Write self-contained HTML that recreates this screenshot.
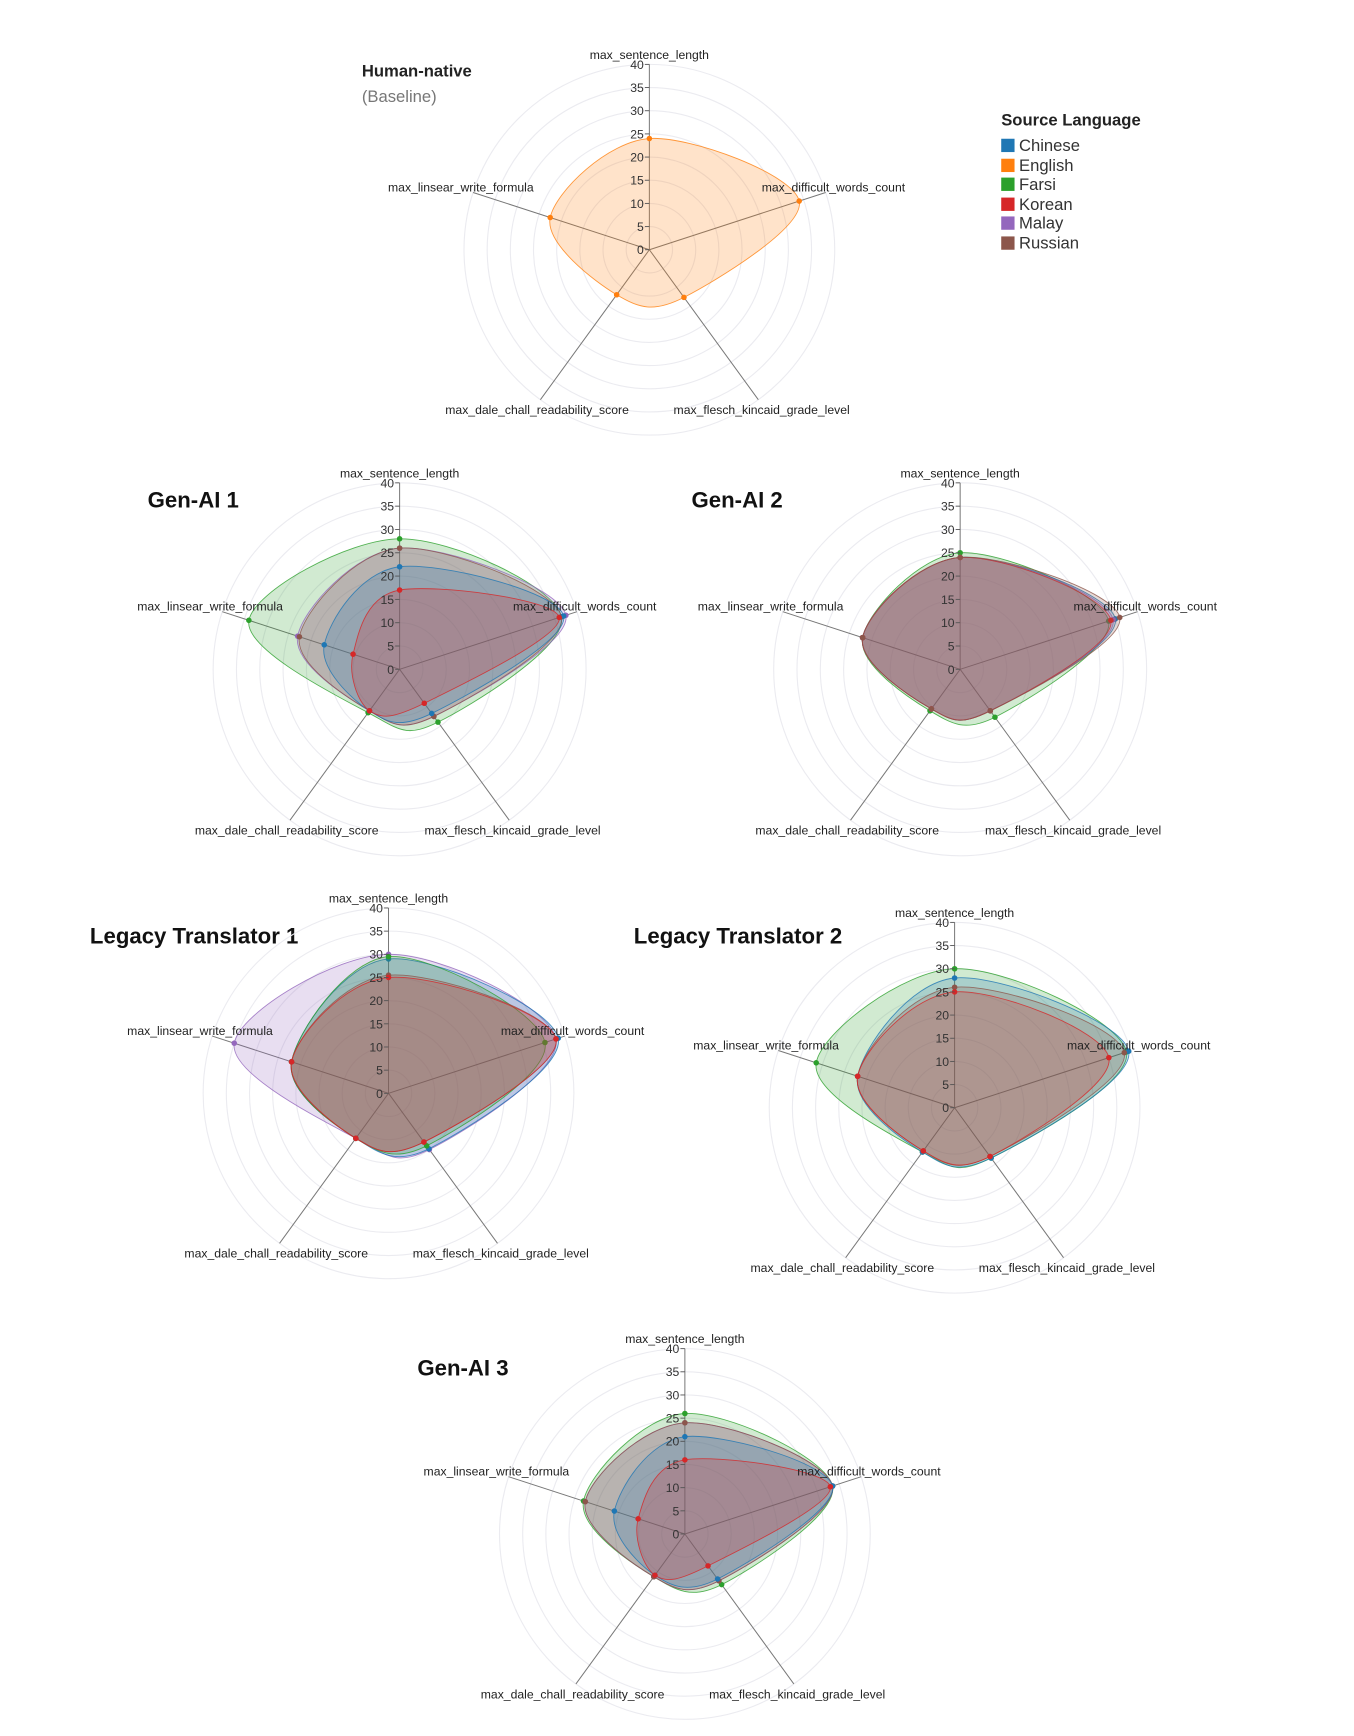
<!DOCTYPE html>
<html><head><meta charset="utf-8"><style>
html,body{margin:0;padding:0;background:#fff;}
svg{display:block;font-family:"Liberation Sans",Arial,sans-serif;}
</style></head><body>
<svg id="s" width="1354" height="1736" viewBox="0 0 1219.8 1564" xmlns="http://www.w3.org/2000/svg">
<text x="326" y="69" font-size="15" font-weight="bold" fill="#222">Human-native</text>
<text x="326" y="92" font-size="15" fill="#777">(Baseline)</text>
<text x="133" y="457" font-size="20" font-weight="bold" fill="#111">Gen-AI 1</text>
<text x="623" y="457" font-size="20" font-weight="bold" fill="#111">Gen-AI 2</text>
<text x="81" y="850" font-size="20" font-weight="bold" fill="#111">Legacy Translator 1</text>
<text x="571" y="850" font-size="20" font-weight="bold" fill="#111">Legacy Translator 2</text>
<text x="376" y="1239" font-size="20" font-weight="bold" fill="#111">Gen-AI 3</text>
<text x="902" y="113" font-size="15" font-weight="bold" fill="#222">Source Language</text>
<g font-size="15" fill="#333">
<rect x="902" y="125" width="12" height="12" fill="#1f77b4"/><text x="918" y="136">Chinese</text>
<rect x="902" y="143" width="12" height="12" fill="#ff7f0e"/><text x="918" y="154">English</text>
<rect x="902" y="160" width="12" height="12" fill="#2ca02c"/><text x="918" y="171">Farsi</text>
<rect x="902" y="178" width="12" height="12" fill="#d62728"/><text x="918" y="189">Korean</text>
<rect x="902" y="195" width="12" height="12" fill="#9467bd"/><text x="918" y="206">Malay</text>
<rect x="902" y="213" width="12" height="12" fill="#8c564b"/><text x="918" y="224">Russian</text>
</g>
</svg>
<script>
var NS="http://www.w3.org/2000/svg",S=document.getElementById('s');
var C={ch:"#1f77b4",en:"#ff7f0e",fa:"#2ca02c",ko:"#d62728",ma:"#9467bd",ru:"#8c564b"};
var labels=["max_sentence_length","max_difficult_words_count","max_flesch_kincaid_grade_level","max_dale_chall_readability_score","max_linsear_write_formula"];
function el(t,a,txt){var e=document.createElementNS(NS,t);for(var k in a)e.setAttribute(k,a[k]);if(txt!==undefined)e.textContent=txt;S.appendChild(e);return e;}
function ang(i){return -Math.PI/2+i*2*Math.PI/5;}
function chart(cx,cy,R,series){
  var u=R/40;
  for(var r=5;r<=40;r+=5)el('circle',{cx:cx,cy:cy,r:r*u,fill:'none',stroke:'#ebebf0','stroke-width':1});
  for(var i=0;i<5;i++){var a=ang(i);el('line',{x1:cx,y1:cy,x2:cx+R*Math.cos(a),y2:cy+R*Math.sin(a),stroke:'#777','stroke-width':0.9});}
  series.forEach(function(s){
    var p=s[1].map(function(v,i){var a=ang(i);return [cx+v*u*Math.cos(a),cy+v*u*Math.sin(a)];});
    var n=p.length,d="M"+p[0][0]+","+p[0][1];
    for(var i=0;i<n;i++){var p0=p[(i-1+n)%n],p1=p[i],p2=p[(i+1)%n],p3=p[(i+2)%n];
      d+="C"+(p1[0]+(p2[0]-p0[0])/6)+","+(p1[1]+(p2[1]-p0[1])/6)+" "+(p2[0]-(p3[0]-p1[0])/6)+","+(p2[1]-(p3[1]-p1[1])/6)+" "+p2[0]+","+p2[1];}
    el('path',{d:d+"Z",fill:C[s[0]],'fill-opacity':0.22,stroke:C[s[0]],'stroke-width':0.8,'stroke-opacity':0.8});
    p.forEach(function(q){el('circle',{cx:q[0],cy:q[1],r:2.5,fill:C[s[0]]});});
  });
  for(var t=0;t<=40;t+=5){var y=cy-t*u;el('line',{x1:cx-4,y1:y,x2:cx,y2:y,stroke:'#555','stroke-width':0.8});
    el('text',{x:cx-5,y:y+4,'font-size':11,'text-anchor':'end',fill:'#333'},t);}
  el('text',{x:cx,y:cy-R-5,'font-size':11,'text-anchor':'middle',fill:'#222'},labels[0]);
  var a1=ang(1),a4=ang(4),a2=ang(2),a3=ang(3);
  el('text',{x:cx+R*Math.cos(a1)+7,y:cy+R*Math.sin(a1)-1,'font-size':11,'text-anchor':'middle',fill:'#222'},labels[1]);
  el('text',{x:cx+R*Math.cos(a4)-11,y:cy+R*Math.sin(a4)-1,'font-size':11,'text-anchor':'middle',fill:'#222'},labels[4]);
  el('text',{x:cx+R*Math.cos(a2)+3,y:cy+R*Math.sin(a2)+13,'font-size':11,'text-anchor':'middle',fill:'#222'},labels[2]);
  el('text',{x:cx+R*Math.cos(a3)-3,y:cy+R*Math.sin(a3)+13,'font-size':11,'text-anchor':'middle',fill:'#222'},labels[3]);
}
chart(585,225,167,[["en",[24,34,12.7,12,22.5]]]);
chart(360,603,168,[
 ["fa",[28,36.5,14,11.5,34]],["ma",[26,37.5,12.5,11,23]],["ru",[26,36.5,12.5,11,22.6]],
 ["ch",[22,37,11.7,11,17]],["ko",[17,36,9,11,10.5]]]);
chart(865,603,168,[
 ["fa",[25,33.5,12.7,11,22]],["ch",[24,35,11,10.5,22]],["ma",[24,34.5,11,10.5,22]],
 ["ko",[24,34,11,10.5,22]],["ru",[24,36,11,10.5,22]]]);
chart(350,985,167,[
 ["ma",[30,38,15,12,35]],["ch",[29,38.5,14.8,12,22]],["fa",[29.5,35.5,14,12,22]],
 ["ru",[25.5,38,13,12,22]],["ko",[25,38,13,12,22]]]);
chart(860,998,167,[
 ["fa",[30,39,13.4,11.8,31.4]],["ch",[28,39.5,13.4,11.8,22]],["ru",[26,38.5,13,11.5,22]],
 ["ko",[25,35,13,11.5,22]]]);
chart(617,1382,167,[
 ["fa",[26,33.5,13.5,11.4,23]],["ma",[24,33.5,12.5,11.4,22.6]],["ru",[24,33.5,12.5,11.4,22.6]],
 ["ch",[21,33.5,12,11,16]],["ko",[16,33,8.5,11,10.6]]]);
</script>
</body></html>
